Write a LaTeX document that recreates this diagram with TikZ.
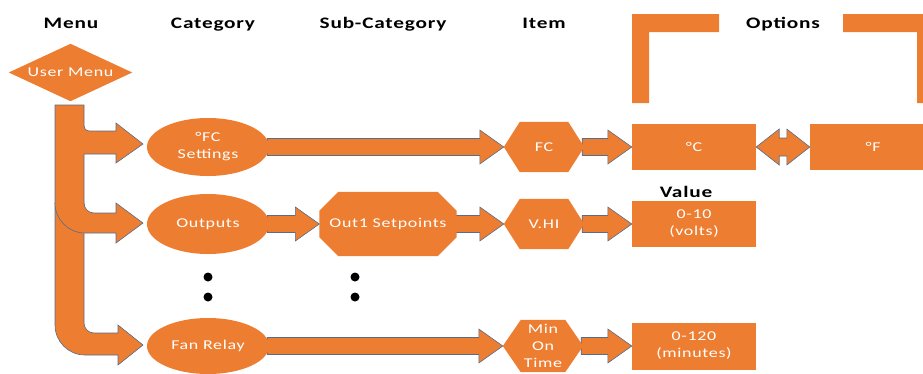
\documentclass[tikz,border=0pt]{standalone}
\usepackage{fontspec}
\setmainfont{Carlito}[FakeStretch=1.33,LetterSpace=5]
\usetikzlibrary{calc,shapes.geometric}
\definecolor{org}{HTML}{ED7D31}
\definecolor{edgec}{RGB}{84,110,140}
\pgfdeclarelayer{bg}\pgfsetlayers{bg,main}
\newcommand\rarrow[2]{\draw[arr] ($(#1.east)+(-2,-8.5)$) -- ($(#2.west)+(-24,-8.5)$) -- ($(#2.west)+(-24,-17)$) -- (#2.west) -- ($(#2.west)+(-24,17)$) -- ($(#2.west)+(-24,8.5)$) -- ($(#1.east)+(-2,8.5)$) -- cycle;}
\newcommand\hexfill[2]{\fill[org] (#1.west) -- ($(#1.north west)+(#2,0)$) -- ($(#1.north east)+(-#2,0)$) -- (#1.east) -- ($(#1.south east)+(-#2,0)$) -- ($(#1.south west)+(#2,0)$) -- cycle;}
\begin{document}
\begin{tikzpicture}[x=1pt,y=-1pt,
  hdr/.style={font=\bfseries\fontsize{16}{18}\selectfont, text=black, inner sep=0pt, anchor=base},
  txt/.style={font=\fontsize{13.5}{17}\selectfont, text=white, align=center, inner sep=0pt},
  ell/.style={txt, ellipse, fill=org, minimum width=122pt, minimum height=58pt},
  boxn/.style={txt, rectangle, fill=org, minimum width=124pt, minimum height=46pt},
  hexn/.style={txt, rectangle, minimum width=80pt, minimum height=50pt},
  octn/.style={txt, rectangle, minimum width=137pt, minimum height=64pt},
  diam/.style={txt, rectangle, minimum width=123pt, minimum height=57pt},
  dotn/.style={circle, fill=black, inner sep=0pt, minimum size=9pt},
  arr/.style={fill=org, draw=edgec, line width=0.6pt, line join=miter},
  edgeline/.style={draw=edgec, line width=0.6pt}]
\useasboundingbox (0,0) rectangle (923,373);
\clip (0,0) rectangle (923,373);

% headers
\node[hdr] (hmenu) at (71,28) {Menu};
\node[hdr] (hcat) at (213,28) {Category};
\node[hdr] (hsub) at (383,28) {Sub-Category};
\node[hdr] (hitem) at (544,28) {Item};
\node[hdr] (hopt) at (783,28) {Options};
\node[hdr] (hval) at (686,197) {Value};

% nodes
\node[diam] (um) at (70.5,72.5) {User Menu};
\node[ell] (set) at (208,147) {°FC\\Settings};
\node[ell, minimum height=60pt] (outp) at (208,224) {Outputs};
\node[ell, minimum height=56pt] (fan) at (208,346) {Fan Relay};
\node[octn] (out1) at (388,224) {Out1 Setpoints};
\node[hexn] (fc) at (544,147) {FC};
\node[hexn] (vhi) at (544,224) {V.HI};
\node[hexn, minimum height=52pt] (mot) at (543,346) {Min\\On\\Time};
\node[boxn] (degc) at (694,147) {°C};
\node[boxn, minimum width=126pt] (degf) at (873,147) {°F};
\node[boxn] (v10) at (694,224) {0-10\\(volts)};
\node[boxn, minimum height=47pt] (v120) at (694,346) {0-120\\(minutes)};

% dots
\node[dotn] (d1) at (208,277) {};
\node[dotn] (d2) at (208,297) {};
\node[dotn] (d3) at (355,277) {};
\node[dotn] (d4) at (355,297) {};

% options brackets
\fill[org] (632,14) -- (719,14) -- (719,32) -- (649,32) -- (649,103) -- (632,103) -- cycle;
\fill[org] (843,14) -- (934,14) -- (934,103) -- (917,103) -- (917,32) -- (843,32) -- cycle;

\begin{pgfonlayer}{bg}
% trunk with branch to Fan Relay
\draw[arr] (55,105) -- (84,105) -- (84,323) .. controls (84,328.5) and (88.5,333) .. (94,333)
  -- (118,333) -- (118,325) -- (143,345) -- (118,365) -- (118,355) -- (85,355)
  .. controls (68.4,355) and (55,341.6) .. (55,325) -- cycle;
% branch to FC Settings
\fill[org] (84,126) .. controls (84,129) and (86,131) .. (89,131) -- (116,131) -- (116,123) -- (143,144)
  -- (116,163) -- (116,154) -- (83,154) -- (83,126) -- cycle;
\draw[edgeline, line join=miter] (84,126) .. controls (84,129) and (86,131) .. (89,131) -- (116,131) -- (116,123) -- (143,144)
  -- (116,163) -- (116,154) -- (84,154);
% branch to Outputs
\fill[org] (84,203) .. controls (84,208.5) and (88.5,213) .. (94,213) -- (116,213) -- (116,203) -- (143,223)
  -- (116,243) -- (116,233) -- (85,233) .. controls (68.4,233) and (55,219.6) .. (55,203) -- cycle;
\draw[edgeline, line join=miter] (84,203) .. controls (84,208.5) and (88.5,213) .. (94,213) -- (116,213) -- (116,203) -- (143,223)
  -- (116,243) -- (116,233) -- (85,233) .. controls (68.4,233) and (55,219.6) .. (55,203);

% arrows between nodes
\rarrow{set}{fc}
\rarrow{fc}{degc}
\rarrow{outp}{out1}
\rarrow{out1}{vhi}
\rarrow{vhi}{v10}
\rarrow{fan}{mot}
\rarrow{mot}{v120}
% double arrow
\draw[arr] (degc.east) -- ($(degc.east)+(23,-18)$) -- ($(degc.east)+(23,-9)$) -- ($(degf.west)+(-23,-9)$)
  -- ($(degf.west)+(-23,-18)$) -- (degf.west) -- ($(degf.west)+(-23,18)$) -- ($(degf.west)+(-23,9)$)
  -- ($(degc.east)+(23,9)$) -- ($(degc.east)+(23,18)$) -- cycle;

% shape fills
\fill[org] (um.west) -- (um.north) -- (um.east) -- (um.south) -- cycle;
\fill[org] ($(out1.north west)+(19,0)$) -- ($(out1.north east)+(-19,0)$) -- ($(out1.north east)+(0,19)$)
  -- ($(out1.south east)+(0,-19)$) -- ($(out1.south east)+(-19,0)$) -- ($(out1.south west)+(19,0)$)
  -- ($(out1.south west)+(0,-19)$) -- ($(out1.north west)+(0,19)$) -- cycle;
\hexfill{fc}{16}
\hexfill{vhi}{16}
\hexfill{mot}{18}
\end{pgfonlayer}
\end{tikzpicture}
\end{document}
